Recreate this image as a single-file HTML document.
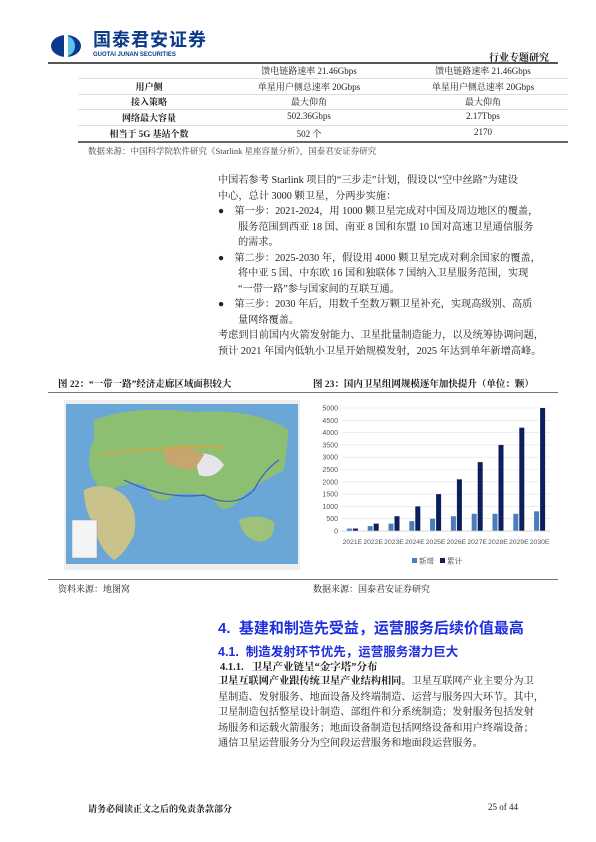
<!DOCTYPE html>
<html><head><meta charset="utf-8">
<style>
body{margin:0;background:#fff;}
#page{position:relative;width:596px;height:842px;overflow:hidden;background:#fff;font-family:"Liberation Serif","Noto Serif CJK SC",serif;color:#222;}
.a{position:absolute;white-space:nowrap;}
.t{font-size:10.2px;line-height:15.5px;}
.t div{white-space:nowrap;}
.r{position:absolute;height:1px;background:#bbb;}
.cell{position:absolute;font-size:9px;text-align:center;}
.b{font-weight:bold;}
.blue{color:#1f2fe0;font-family:"Liberation Sans","Noto Sans CJK SC",sans-serif;font-weight:bold;}
</style></head><body>
<div id="page">

<div class="a" style="left:50px;top:34px;width:32px;height:24px;">
<svg width="32" height="24"><ellipse cx="16" cy="12" rx="15" ry="11" fill="#0b3a8c"/><path d="M16 2 A9 10 0 0 1 16 22 Z" fill="#5fc3e8"/><rect x="14" y="1" width="4" height="22" fill="#fff"/></svg></div>
<div class="a" style="left:93px;top:30px;font-size:18px;line-height:20px;font-weight:bold;color:#0b3a8c;font-family:'Liberation Sans','Noto Sans CJK SC',sans-serif;letter-spacing:1px;">国泰君安证券</div>
<div class="a" style="left:93px;top:52px;font-size:6px;line-height:7px;font-weight:bold;color:#0b3a8c;font-family:'Liberation Sans',sans-serif;">GUOTAI JUNAN SECURITIES</div>
<div class="a" style="left:489px;top:49px;font-size:10px;font-weight:bold;">行业专题研究</div>
<div class="r" style="left:48px;top:62px;width:510px;height:1.5px;background:#555;"></div>

<div>
<div class="cell" style="left:220px;top:64px;width:178px;">馈电链路速率 21.46Gbps</div>
<div class="cell" style="left:398px;top:64px;width:170px;">馈电链路速率 21.46Gbps</div>
<div class="r" style="left:78px;top:78px;width:490px;background:#ddd;"></div>
<div class="cell b" style="left:78px;top:80px;width:142px;">用户侧</div>
<div class="cell" style="left:220px;top:80px;width:178px;">单星用户侧总速率 20Gbps</div>
<div class="cell" style="left:398px;top:80px;width:170px;">单星用户侧总速率 20Gbps</div>
<div class="r" style="left:78px;top:94px;width:490px;background:#ddd;"></div>
<div class="cell b" style="left:78px;top:95px;width:142px;">接入策略</div>
<div class="cell" style="left:220px;top:95px;width:178px;">最大仰角</div>
<div class="cell" style="left:398px;top:95px;width:170px;">最大仰角</div>
<div class="r" style="left:78px;top:109px;width:490px;background:#ddd;"></div>
<div class="cell b" style="left:78px;top:111px;width:142px;">网络最大容量</div>
<div class="cell" style="left:220px;top:111px;width:178px;">502.36Gbps</div>
<div class="cell" style="left:398px;top:111px;width:170px;">2.17Tbps</div>
<div class="r" style="left:78px;top:125px;width:490px;background:#ddd;"></div>
<div class="cell b" style="left:78px;top:127px;width:142px;">相当于 5G 基站个数</div>
<div class="cell" style="left:220px;top:127px;width:178px;">502 个</div>
<div class="cell" style="left:398px;top:127px;width:170px;">2170</div>
<div class="r" style="left:78px;top:141px;width:490px;height:1.5px;background:#666;"></div>
</div>
<div class="a" style="left:88px;top:145px;font-size:8.5px;color:#444;">数据来源：中国科学院软件研究《Starlink 星座容量分析》，国泰君安证券研究</div>

<div class="a t" style="left:218px;top:173px;">
<div>中国若参考 Starlink 项目的“三步走”计划，假设以“空中丝路”为建设</div>
<div>中心，总计 3000 颗卫星，分两步实施：</div>
<div>●&nbsp;&nbsp;&nbsp;&nbsp;第一步：2021-2024，用 1000 颗卫星完成对中国及周边地区的覆盖，</div>
<div style="padding-left:20px">服务范围到西亚 18 国、南亚 8 国和东盟 10 国对高速卫星通信服务</div>
<div style="padding-left:20px">的需求。</div>
<div>●&nbsp;&nbsp;&nbsp;&nbsp;第二步：2025-2030 年，假设用 4000 颗卫星完成对剩余国家的覆盖，</div>
<div style="padding-left:20px">将中亚 5 国、中东欧 16 国和独联体 7 国纳入卫星服务范围，实现</div>
<div style="padding-left:20px">“一带一路”参与国家间的互联互通。</div>
<div>●&nbsp;&nbsp;&nbsp;&nbsp;第三步：2030 年后，用数千至数万颗卫星补充，实现高级别、高质</div>
<div style="padding-left:20px">量网络覆盖。</div>
<div>考虑到目前国内火箭发射能力、卫星批量制造能力，以及统筹协调问题，</div>
<div>预计 2021 年国内低轨小卫星开始规模发射，2025 年达到单年新增高峰。</div>
</div>

<div class="a b" style="left:58px;top:376px;font-size:9.5px;">图 22：“一带一路”经济走廊区域面积较大</div>
<div class="a b" style="left:313px;top:376px;font-size:9.5px;">图 23：国内卫星组网规模逐年加快提升（单位：颗）</div>
<div class="r" style="left:48px;top:392px;width:510px;background:#777;"></div>

<svg class="a" style="left:64px;top:400px;" width="236" height="170">
<rect x="0" y="0" width="236" height="170" fill="#eee"/>
<rect x="2" y="4" width="232" height="160" fill="#6aa6d6"/>
<path d="M30 20 Q70 5 130 12 Q190 8 225 30 L220 70 Q200 80 180 95 Q160 120 150 100 Q130 90 110 95 Q95 110 80 85 Q60 80 40 95 L30 80 Q20 60 30 40 Z" fill="#8dbf73"/>
<path d="M20 90 Q40 80 60 95 Q75 110 70 135 Q60 155 50 160 Q35 150 30 125 Q20 110 20 90 Z" fill="#c9c28a"/>
<path d="M130 55 Q150 50 160 65 Q150 80 135 75 Z" fill="#e8e4ec"/>
<path d="M100 50 Q120 40 140 55 L130 70 Q110 70 100 60 Z" fill="#c4a66e"/>
<path d="M175 120 Q195 112 210 122 Q212 140 195 142 Q178 138 175 120 Z" fill="#9ec27a"/>
<path d="M35 55 Q100 45 160 48" stroke="#e0a03c" stroke-width="1.5" fill="none"/>
<path d="M60 80 Q100 100 140 95 Q170 110 190 90 Q200 70 215 60" stroke="#3a5fc8" stroke-width="1.2" fill="none"/>
<rect x="8" y="120" width="25" height="38" fill="#f4f4f4" stroke="#999" stroke-width="0.5"/>
</svg>

<div>
<svg class="a" id="chart" style="left:300px;top:398px;" width="260" height="175"></svg>
</div>

<div class="r" style="left:48px;top:579px;width:510px;background:#777;"></div>
<div class="a" style="left:58px;top:582px;font-size:9px;">资料来源：地图窝</div>
<div class="a" style="left:313px;top:582px;font-size:9px;">数据来源：国泰君安证券研究</div>

<div class="a blue" style="left:218px;top:617px;font-size:15px;">4.&nbsp;&nbsp;基建和制造先受益，运营服务后续价值最高</div>
<div class="a blue" style="left:218px;top:641px;font-size:12.5px;">4.1.&nbsp;&nbsp;制造发射环节优先，运营服务潜力巨大</div>
<div class="a b" style="left:220px;top:659px;font-size:10.5px;">4.1.1.&nbsp;&nbsp;&nbsp;卫星产业链呈“金字塔”分布</div>
<div class="a t" style="left:218px;top:674px;">
<div><b>卫星互联网产业跟传统卫星产业结构相同。</b>卫星互联网产业主要分为卫</div>
<div>星制造、发射服务、地面设备及终端制造、运营与服务四大环节。其中，</div>
<div>卫星制造包括整星设计制造、部组件和分系统制造；发射服务包括发射</div>
<div>场服务和运载火箭服务；地面设备制造包括网络设备和用户终端设备；</div>
<div>通信卫星运营服务分为空间段运营服务和地面段运营服务。</div>
</div>

<div class="a b" style="left:88px;top:802px;font-size:9px;">请务必阅读正文之后的免责条款部分</div>
<div class="a" style="left:488px;top:802px;font-size:9px;">25 of 44</div>

<script>
const categories=["2021E","2022E","2023E","2024E","2025E","2026E","2027E","2028E","2029E","2030E"];
const newAdded=[100,200,300,400,500,600,700,700,700,800];
const cumulative=[100,300,600,1000,1500,2100,2800,3500,4200,5000];
const yTicks=[0,500,1000,1500,2000,2500,3000,3500,4000,4500,5000];
const svg=document.getElementById('chart');
const NS='http://www.w3.org/2000/svg';
const x0=42,x1=250,yTop=10,yBot=133,yMax=5000;
const y=v=>yBot-(v/yMax)*(yBot-yTop);
const band=(x1-x0)/categories.length;
const xc=i=>x0+band*(i+0.5);
function mk(tag,at){const e=document.createElementNS(NS,tag);for(const k in at)e.setAttribute(k,at[k]);svg.appendChild(e);return e;}
yTicks.forEach(t=>{
 const g=mk('line',{x1:x0,x2:x1,y1:y(t),y2:y(t),stroke:'#e3e3e3','stroke-width':0.6});
 
 
 const l=mk('text',{x:x0-4,y:y(t)+2.5,'text-anchor':'end','font-size':7,fill:'#555','font-family':'Liberation Sans,sans-serif'});
 l.textContent=t;
 
 
});
categories.forEach((c,i)=>{
 const b1=mk('rect',{x:xc(i)-5.5,y:y(newAdded[i]),width:5,height:yBot-y(newAdded[i]),fill:'#4a7ebb'});
 
 
 const b2=mk('rect',{x:xc(i)+0.5,y:y(cumulative[i]),width:5,height:yBot-y(cumulative[i]),fill:'#0c1f5c'});
 
 
 const l=mk('text',{x:xc(i),y:yBot+13,'text-anchor':'middle','font-size':6.8,fill:'#555','font-family':'Liberation Sans,sans-serif'});
 l.textContent=c;
 
 
});
const ax=mk('line',{x1:x0,x2:x1,y1:yBot,y2:yBot,stroke:'#ccc','stroke-width':0.8});


const leg=[['新增','#4a7ebb',112],['累计','#0c1f5c',140]];
leg.forEach(([n,c,lx])=>{
 const r=mk('rect',{x:lx,y:160,width:5,height:5,fill:c});
 
 
 const t=mk('text',{x:lx+7,y:165.5,'font-size':7.5,fill:'#666','font-family':'Liberation Sans,Noto Sans CJK SC,sans-serif'});
 t.textContent=n;
 
 
});
</script>
</div>
</body></html>
